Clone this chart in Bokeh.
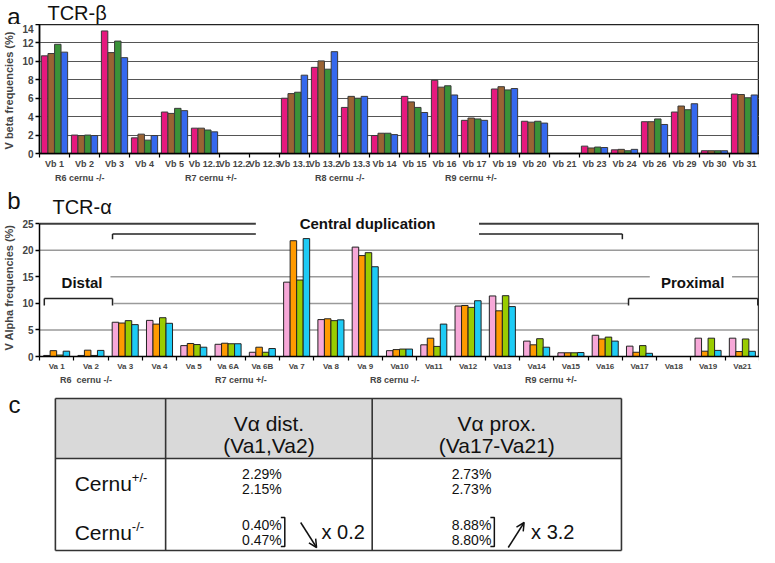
from bokeh.plotting import figure
from bokeh.models import (ColumnDataSource, FixedTicker, Legend, LegendItem, Label, Range1d,
                          Arrow, OpenHead)
from bokeh.transform import dodge
from bokeh.layouts import column
from bokeh.embed import file_html
from bokeh.resources import INLINE
from bokeh.core.properties import value

FONT = "Liberation Sans"

# ---------------- data: TCR-beta ----------------
beta_cats = ["Vb 1", "Vb 2", "Vb 3", "Vb 4", "Vb 5", "Vb 12.1", "Vb 12.2", "Vb 12.3",
             "Vb 13.1", "Vb 13.2", "Vb 13.3", "Vb 14", "Vb 15", "Vb 16", "Vb 17", "Vb 19",
             "Vb 20", "Vb 21", "Vb 23", "Vb 24", "Vb 26", "Vb 29", "Vb 30", "Vb 31"]
beta_r6 = [10.6, 2.0, 13.3, 1.7, 4.5, 2.75, 0, 0, 6.0, 9.35, 5.0, 1.95, 6.2, 7.95, 3.6, 7.0,
           3.5, 0, 0.8, 0.4, 3.45, 4.5, 0.3, 6.45]
beta_r7 = [10.85, 1.95, 10.95, 2.1, 4.35, 2.75, 0, 0, 6.5, 10.05, 6.2, 2.2, 5.6, 7.2, 3.85, 7.25,
           3.4, 0, 0.6, 0.45, 3.45, 5.15, 0.3, 6.4]
beta_r8 = [11.85, 2.0, 12.2, 1.45, 4.9, 2.55, 0, 0, 6.65, 9.15, 6.0, 2.2, 5.0, 7.35, 3.75, 6.9,
           3.5, 0, 0.7, 0.3, 3.75, 4.75, 0.3, 6.05]
beta_r9 = [11.0, 1.95, 10.4, 1.95, 4.65, 2.35, 0, 0, 8.5, 11.05, 6.2, 2.05, 4.45, 6.35, 3.6, 7.05,
           3.3, 0, 0.65, 0.45, 3.15, 5.4, 0.3, 6.35]
beta_yticks = [0, 2, 4, 6, 8, 10, 12, 14]

# ---------------- data: TCR-alpha ----------------
alpha_cats = ["Va 1", "Va 2", "Va 3", "Va 4", "Va 5", "Va 6A", "Va 6B", "Va 7", "Va 8", "Va 9",
              "Va10", "Va11", "Va12", "Va13", "Va14", "Va15", "Va16", "Va17", "Va18", "Va19", "Va21"]
alpha_r6 = [0.2, 0.2, 6.45, 6.8, 2.05, 2.3, 0.8, 14.0, 6.95, 20.6, 1.1, 2.2, 9.5, 11.4, 2.9, 0.7,
            4.0, 1.95, 0, 3.45, 3.45]
alpha_r7 = [1.1, 1.19, 6.3, 6.1, 2.45, 2.5, 1.75, 21.8, 7.1, 19.0, 1.3, 3.45, 9.6, 8.6, 2.2, 0.7,
            3.3, 0.8, 0, 1.0, 0.93]
alpha_r8 = [0.27, 0.2, 6.75, 7.3, 2.25, 2.4, 0.8, 14.4, 6.75, 19.55, 1.4, 1.9, 9.25, 11.45, 3.35, 0.7,
            3.65, 2.05, 0, 3.45, 3.3]
alpha_r9 = [1.0, 1.15, 6.0, 6.25, 1.75, 2.4, 1.5, 22.2, 6.9, 16.9, 1.4, 6.1, 10.5, 9.4, 1.75, 0.75,
            2.9, 0.6, 0, 1.15, 0.98]
alpha_yticks = [0, 5, 10, 15, 20, 25]

series_labels = ["R6 cernu -/-", "R7 cernu +/-", "R8 cernu -/-", "R9 cernu +/-"]
alpha_labels = ["R6  cernu -/-", "R7 cernu +/-", "R8 cernu -/-", "R9 cernu +/-"]

# ---------------- data: table ----------------
tbl_head = [["V\u03b1 dist.", "(Va1,Va2)"], ["V\u03b1 prox.", "(Va17-Va21)"]]
tbl_rows = ["Cernu", "Cernu"]
tbl_sup = ["+/-", "-/-"]
dist_het = ["2.29%", "2.15%"]
dist_ko = ["0.40%", "0.47%"]
prox_het = ["2.73%", "2.73%"]
prox_ko = ["8.88%", "8.80%"]
fold = ["x 0.2", "x 3.2"]

beta_colors = ["#E6187E", "#9A6434", "#3A9238", "#3568EE"]
alpha_colors = ["#F7A8D8", "#FF9A00", "#99CC00", "#1ECBF5"]

W = 759
BL, BR = 34, 0   # common left / right borders of every figure


def base_fig(height, **kw):
    return figure(width=W, height=height, output_backend="svg", toolbar_location=None,
                  min_border_left=BL, min_border_right=BR, **kw)


def letter_fig(height, letter, letter_y, size="24px"):
    """Figure in pixel-like coordinates whose left axis carries only the panel letter."""
    s = base_fig(height, x_range=Range1d(BL, W - BR), y_range=Range1d(height, 0),
                 x_axis_location=None, min_border_top=0, min_border_bottom=0)
    s.grid.grid_line_color = None
    s.outline_line_color = None
    ax = s.yaxis[0]
    ax.ticker = FixedTicker(ticks=[letter_y])
    ax.major_label_overrides = {letter_y: letter}
    ax.major_label_text_font = FONT
    ax.major_label_text_font_size = size
    ax.major_label_text_color = "#111111"
    ax.major_label_standoff = 19
    ax.axis_line_color = None
    ax.major_tick_line_color = None
    ax.minor_tick_line_color = None
    ax.major_tick_out = 0
    ax.major_tick_in = 0
    return s


def style_axes(p, yticks, ylabel, cats):
    n = len(cats)
    p.yaxis.ticker = FixedTicker(ticks=yticks)
    p.yaxis.bounds = (yticks[0], yticks[-1])
    p.yaxis.major_label_text_font = FONT
    p.yaxis.major_label_text_font_style = "bold"
    p.yaxis.major_label_text_font_size = "10px"
    p.yaxis.axis_label = ylabel
    p.yaxis.axis_label_text_font = FONT
    p.yaxis.axis_label_text_font_style = "bold"
    p.yaxis.axis_label_text_font_size = "11px"
    p.yaxis.axis_label_standoff = 4
    p.yaxis.major_label_standoff = 2
    p.yaxis.major_tick_out = 4
    p.yaxis.major_tick_in = 0
    p.yaxis.minor_tick_line_color = None
    p.yaxis.axis_line_width = 1.5
    p.yaxis.major_tick_line_width = 1.5
    p.xaxis.ticker = FixedTicker(ticks=list(range(n)),
                                 minor_ticks=[i - 0.5 for i in range(n + 1)])
    p.xaxis.major_label_overrides = {i: c for i, c in enumerate(cats)}
    p.xaxis.major_label_text_font = FONT
    p.xaxis.major_label_text_font_style = "bold"
    p.xaxis.major_tick_out = 0
    p.xaxis.major_tick_in = 0
    p.xaxis.minor_tick_out = 4
    p.xaxis.minor_tick_in = 0
    p.xaxis.minor_tick_line_width = 1.2
    p.xaxis.axis_line_width = 1.5
    p.xaxis.major_label_standoff = 1
    p.xgrid.grid_line_color = None


def legend_strip(labels, colors, outline, width, x0):
    s = base_fig(12, x_range=Range1d(0, 1), y_range=Range1d(0, 1),
                 x_axis_location=None, y_axis_location=None,
                 min_border_top=0, min_border_bottom=0)
    s.grid.grid_line_color = None
    s.outline_line_color = None
    rs = [s.vbar(x=[], top=[], width=1, fill_color=c, line_color=outline, line_width=1)
          for c in colors]
    leg = Legend(items=[LegendItem(label=l, renderers=[r]) for l, r in zip(labels, rs)],
                 orientation="horizontal", location=(x0, 0))
    leg.label_width = width
    leg.spacing = 0
    leg.glyph_width = 9
    leg.glyph_height = 9
    leg.label_standoff = 2
    leg.padding = 0
    leg.margin = 0
    leg.border_line_color = None
    leg.background_fill_alpha = 0
    leg.label_text_font = FONT
    leg.label_text_font_style = "bold"
    leg.label_text_font_size = "9px"
    leg.label_height = 11
    s.add_layout(leg, "center")
    return s


# ---------------- panel a ----------------
head_a = letter_fig(24, "a", 11)
head_a.text(x=[42], y=[12], text=["TCR-\u03b2"], text_font=value(FONT), text_font_size="20px",
            text_align="left", text_baseline="middle", text_color="#111111")

bsrc = ColumnDataSource(dict(idx=list(range(len(beta_cats))), r6=beta_r6, r7=beta_r7,
                             r8=beta_r8, r9=beta_r9))
pa = base_fig(147, x_range=Range1d(-0.5, len(beta_cats) - 0.5), y_range=Range1d(0, 14),
              min_border_top=0, min_border_bottom=0)
offs = [-0.33, -0.11, 0.11, 0.33]
for key, off, col in zip(["r6", "r7", "r8", "r9"], offs, beta_colors):
    pa.vbar(x=dodge("idx", off, range=pa.x_range), top=key, width=0.215, source=bsrc,
            fill_color=col, line_color="#3a3a3a", line_width=1)
style_axes(pa, beta_yticks, "V beta frequencies  (%)", beta_cats)
pa.xaxis.major_label_text_font_size = "9px"
pa.ygrid.grid_line_color = "#555555"
pa.ygrid.grid_line_width = 1.2
pa.outline_line_color = "#222222"
pa.outline_line_width = 1.5

leg_a = legend_strip(series_labels, beta_colors, "#3a3a3a", 119, 5)

# ---------------- panel b ----------------
head_b = letter_fig(32, "b", 20)
head_b.text(x=[47], y=[23], text=["TCR-\u03b1"], text_font=value(FONT), text_font_size="20px",
            text_align="left", text_baseline="middle", text_color="#111111")

asrc = ColumnDataSource(dict(idx=list(range(len(alpha_cats))), r6=alpha_r6, r7=alpha_r7,
                             r8=alpha_r8, r9=alpha_r9))
na = len(alpha_cats)
pb = base_fig(158, x_range=Range1d(-0.5, na - 0.5), y_range=Range1d(0, 26.55),
              min_border_top=0, min_border_bottom=0)
aoffs = [-0.285, -0.095, 0.095, 0.285]
for key, off, col in zip(["r6", "r7", "r8", "r9"], aoffs, alpha_colors):
    pb.vbar(x=dodge("idx", off, range=pb.x_range), top=key, width=0.19, source=asrc,
            fill_color=col, line_color="#222222", line_width=1)
style_axes(pb, alpha_yticks, "V Alpha frequencies  (%)", alpha_cats)
pb.xaxis.major_label_text_font_size = "8px"
pb.ygrid.grid_line_color = None
pb.outline_line_color = None

# grid lines (interrupted by annotations)
gx0 = [-0.5, 1.66, 1.57, 19.7, -0.5]
gx1 = [na - 0.5, 16.68, 17.3, na - 0.5, na - 0.5]
gy = [5, 10, 15, 15, 20]
pb.segment(x0=gx0, y0=gy, x1=gx1, y1=gy, line_color="#9a9a9a", line_width=1.5, level="underlay")
# frame top (interrupted) and right border
pb.segment(x0=[-0.5, 12.32, na - 0.52], y0=[25, 25, 0], x1=[5.81, na - 0.5, na - 0.52],
           y1=[25, 25, 25], line_color="#3c3c3c", line_width=2)
# brackets
bx0 = [1.63, 1.63, 12.32, 16.5, -0.36, -0.36, 1.63, 16.68, 16.68, 20.45]
by0 = [23.07, 23.07, 23.07, 23.07, 10.9, 10.9, 10.9, 10.9, 10.9, 10.9]
bx1 = [5.81, 1.63, 16.5, 16.5, 1.63, -0.36, 1.63, 20.45, 16.68, 20.45]
by1 = [23.07, 22.1, 23.07, 22.1, 10.9, 9.6, 9.6, 10.9, 9.6, 9.6]
pb.segment(x0=bx0, y0=by0, x1=bx1, y1=by1, line_color="#222222", line_width=1.5)
for x, y, t in [(9.07, 25, "Central duplication"), (0.74, 14.0, "Distal"), (18.55, 14.0, "Proximal")]:
    pb.add_layout(Label(x=x, y=y, text=t, text_font=FONT, text_font_style="bold",
                        text_font_size="15px", text_align="center", text_baseline="middle",
                        text_color="#111111"))

leg_b = legend_strip(alpha_labels, alpha_colors, "#222222", 144, 10)

# ---------------- panel c (table) ----------------
HC = 168
pc = letter_fig(HC, "c", 19)
L, C1, C2, R = 50, 161, 369, 620
T, HB, B = 13, 73, 165
pc.quad(left=[L], right=[R], top=[T], bottom=[HB], fill_color="#D9D9D9", line_color=None)
pc.segment(x0=[L, L, L, L, R, C1, C2], y0=[T, HB, B, T, T, T, T],
           x1=[R, R, R, L, R, C1, C2], y1=[T, HB, B, B, B, B, B],
           line_color="#333333", line_width=1.6)
cx = [(C1 + C2) / 2, (C2 + R) / 2]
for i in range(2):
    pc.text(x=[cx[i], cx[i]], y=[38, 60], text=tbl_head[i], text_font=value(FONT),
            text_font_size="21px", text_align="center", text_baseline="middle", text_color="#111111")
row_y = [98, 147]
pc.text(x=[127, 127], y=row_y, text=tbl_rows, text_font=value(FONT), text_font_size="21px",
        text_align="right", text_baseline="middle", text_color="#111111")
pc.text(x=[127, 127], y=[r - 6 for r in row_y], text=tbl_sup, text_font=value(FONT),
        text_font_size="13px", text_align="left", text_baseline="middle", text_color="#111111")
num_x = [238, 449]
for i, (het, ko) in enumerate([(dist_het, dist_ko), (prox_het, prox_ko)]):
    x = num_x[i]
    pc.text(x=[x, x], y=[88, 103], text=het, text_font=value(FONT), text_font_size="14px",
            text_align="left", text_baseline="middle", text_color="#111111")
    pc.text(x=[x, x], y=[139, 154], text=ko, text_font=value(FONT), text_font_size="14px",
            text_align="left", text_baseline="middle", text_color="#111111")
    bxr = x + 43
    pc.multi_line(xs=[[bxr - 4, bxr, bxr, bxr - 4]], ys=[[132, 132, 161, 161]],
                  line_color="#111111", line_width=1.5)
    pc.text(x=[x + 80], y=[146], text=[fold[i]], text_font=value(FONT), text_font_size="20px",
            text_align="left", text_baseline="middle", text_color="#111111")
pc.add_layout(Arrow(x_start=num_x[0] + 59, y_start=137, x_end=num_x[0] + 75, y_end=162,
                    line_width=1.5, line_color="#111111",
                    end=OpenHead(size=8, line_width=1.5, line_color="#111111")))
pc.add_layout(Arrow(x_start=num_x[1] + 57, y_start=162, x_end=num_x[1] + 73, y_end=137,
                    line_width=1.5, line_color="#111111",
                    end=OpenHead(size=8, line_width=1.5, line_color="#111111")))

layout = column(head_a, pa, leg_a, head_b, pb, leg_b, pc, spacing=0)
open("out.html", "w").write(file_html(layout, INLINE))
